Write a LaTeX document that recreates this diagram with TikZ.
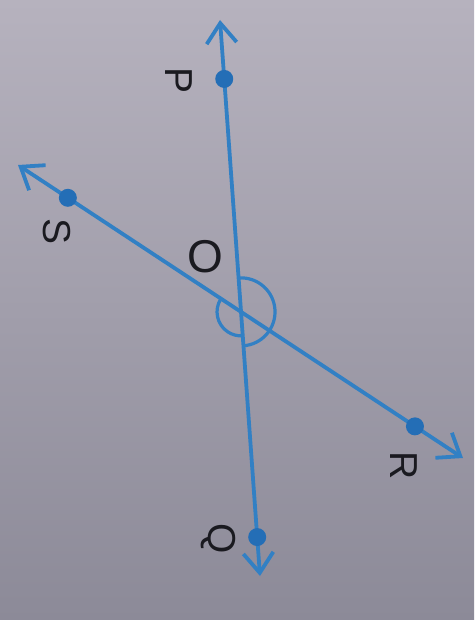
\documentclass[tikz,border=0pt]{standalone}
\usepackage{fontspec}
\setmainfont{Liberation Sans}
\usetikzlibrary{arrows.meta,calc}
\definecolor{bgtop}{RGB}{182,178,190}
\definecolor{bgbot}{RGB}{140,138,152}
\definecolor{lineblue}{RGB}{50,128,196}
\definecolor{dotblue}{RGB}{36,110,182}
\definecolor{ink}{RGB}{26,26,32}
\begin{document}
\begin{tikzpicture}[x=1pt,y=-1pt,
  ray/.style={lineblue, line width=3.8pt, -{Straight Barb[length=20pt,width=30pt]}},
  pointdot/.style={circle, fill=dotblue, inner sep=0pt, minimum size=18pt},
  lbl/.style={text=ink, font=\fontsize{39}{39}\selectfont, rotate=-90, inner sep=0pt},
  centrelbl/.style={text=ink, font=\fontsize{46}{46}\selectfont, inner sep=0pt},
  anglearc/.style={lineblue, line width=3.2pt}]
\useasboundingbox (0,0) rectangle (474,620);
\shade[top color=bgtop, bottom color=bgbot] (0,0) rectangle (474,620);
% end points of the two lines
\coordinate (Ptip) at (220,20);
\coordinate (Qtip) at (260,576);
\coordinate (Stip) at (18,165);
\coordinate (Rtip) at (463,458);
\coordinate (O) at (intersection of Ptip--Qtip and Stip--Rtip);
% rays
\draw[ray] (O) -- (Ptip);
\draw[ray] (O) -- (Qtip);
\draw[ray] (O) -- (Stip);
\draw[ray] (O) -- (Rtip);
% angle marks
\draw[anglearc] ($(O)+(-93.5:34)$) arc[start angle=-93.5, end angle=86.5, radius=34];
\draw[anglearc] ($(O)+(213.2:24)$) arc[start angle=213.2, end angle=86.5, radius=24];
% points
\node[pointdot] (P) at ($(Ptip)!0.106!(Qtip)$) {};
\node[pointdot] (Q) at ($(Ptip)!0.930!(Qtip)$) {};
\node[pointdot] (S) at ($(Stip)!0.112!(Rtip)$) {};
\node[pointdot] (R) at ($(Stip)!0.892!(Rtip)$) {};
% labels
\node[lbl] (Plbl) at (179,81) {P};
\node[lbl] (Slbl) at (57,232) {S};
\node[lbl] (Rlbl) at (404,466) {R};
\node[lbl] (Qlbl) at (218,539) {Q};
\node[centrelbl] (Olbl) at (205,257) {O};
\end{tikzpicture}
\end{document}
